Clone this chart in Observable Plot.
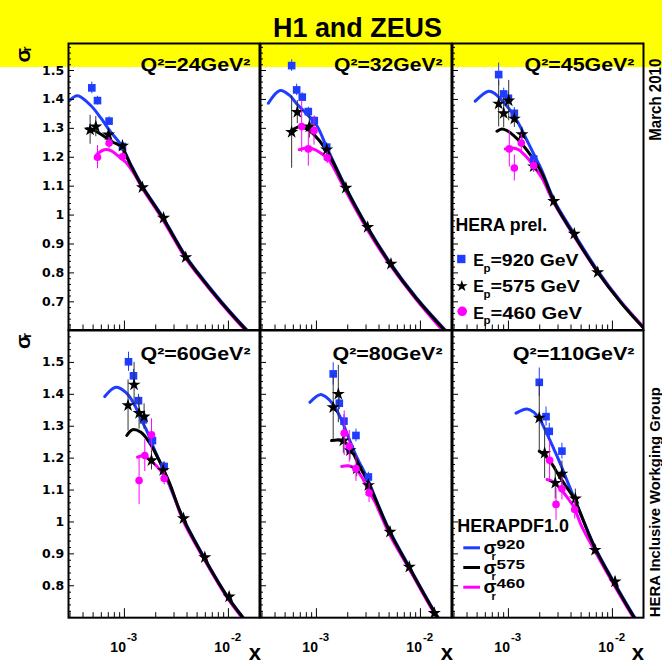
<!DOCTYPE html>
<html><head><meta charset="utf-8">
<script src="https://cdn.jsdelivr.net/npm/d3@7"></script>
<script src="https://cdn.jsdelivr.net/npm/@observablehq/plot@0.6"></script>
<style>
html,body{margin:0;padding:0;background:#fff;}
#root{position:relative;width:662px;height:664px;overflow:hidden;}
</style></head><body><div id="root"></div>
<script>
const BLUE = "#1f3dff", MAG = "#ff00ff", BLK = "#000000", YEL = "#ffff00";

// ---- Q2 = 24 ----
const fit24_920 = [[2.90e-4,1.393],[3.54e-4,1.413],[4.75e-4,1.379],[5.93e-4,1.336],[7.40e-4,1.287],[9.23e-4,1.244],[1.17e-3,1.170],[1.49e-3,1.100],[2.32e-3,0.995],[3.89e-3,0.858],[5.04e-3,0.803],[8.45e-3,0.703],[1.47e-2,0.607],[1.7e-2,0.585]];
const fit24_575 = [[4.35e-4,1.299],[5.1e-4,1.293],[6.4e-4,1.272],[7.7e-4,1.253],[9.3e-4,1.236],[1.17e-3,1.167],[1.49e-3,1.097],[2.32e-3,0.992],[3.89e-3,0.855],[5.04e-3,0.800],[8.45e-3,0.700],[1.47e-2,0.604],[1.7e-2,0.582]];
const fit24_460 = [[5.5e-4,1.212],[6.4e-4,1.226],[7.4e-4,1.223],[8.6e-4,1.206],[1.03e-3,1.183],[1.24e-3,1.143],[1.49e-3,1.092],[2.32e-3,0.986],[3.89e-3,0.850],[5.04e-3,0.796],[8.45e-3,0.697],[1.47e-2,0.600],[1.7e-2,0.578]];
const pts24_920 = [[4.86e-4,1.440,0.02],[5.51e-4,1.396,0.015],[7.12e-4,1.325,0.015],[9.58e-4,1.237,0.015]];
const pts24_575 = [[4.68e-4,1.295,0.05],[5.31e-4,1.306,0.035],[7.03e-4,1.278,0.02],[9.58e-4,1.239,0.02],[1.49e-3,1.096,0.015],[2.38e-3,0.990,0.012],[3.89e-3,0.854,0.012]];
const pts24_460 = [[5.51e-4,1.200,0.04],[7.12e-4,1.249,0.02],[9.58e-4,1.202,0.015]];

// ---- Q2 = 32 ----
const fit32_920 = [[3.45e-4,1.387],[4.47e-4,1.431],[5.57e-4,1.413],[6.46e-4,1.385],[8.06e-4,1.350],[1.007e-3,1.310],[1.256e-3,1.235],[1.92e-3,1.096],[3.11e-3,0.958],[5.21e-3,0.831],[9.07e-3,0.716],[1.76e-2,0.600],[1.9e-2,0.588]];
const fit32_575 = [[5.78e-4,1.292],[6.95e-4,1.306],[8.06e-4,1.298],[9.33e-4,1.281],[1.256e-3,1.223],[1.92e-3,1.092],[3.11e-3,0.955],[5.21e-3,0.828],[9.07e-3,0.713],[1.76e-2,0.597],[1.9e-2,0.585]];
const fit32_460 = [[6.85e-4,1.226],[8.36e-4,1.233],[9.69e-4,1.226],[1.125e-3,1.212],[1.30e-3,1.194],[1.92e-3,1.082],[3.11e-3,0.948],[5.21e-3,0.823],[9.07e-3,0.709],[1.64e-2,0.600],[1.8e-2,0.583]];
const pts32_920 = [[5.78e-4,1.517,0.02],[6.46e-4,1.433,0.02],[7.31e-4,1.408,0.015],[8.36e-4,1.358,0.015],[9.54e-4,1.327,0.015],[1.256e-3,1.235,0.015]];
const pts32_575 = [[5.78e-4,1.287,0.125],[6.55e-4,1.356,0.04],[8.55e-4,1.306,0.04],[1.256e-3,1.226,0.02],[1.92e-3,1.094,0.015],[3.11e-3,0.958,0.012],[5.21e-3,0.831,0.012]];
const pts32_460 = [[7.22e-4,1.306,0.09],[8.36e-4,1.229,0.06],[9.48e-4,1.292,0.05],[1.27e-3,1.198,0.02]];

// ---- Q2 = 45 ----
const fit45_920 = [[4.80e-4,1.394],[6.46e-4,1.428],[7.48e-4,1.419],[8.67e-4,1.396],[1.042e-3,1.362],[1.256e-3,1.316],[1.51e-3,1.258],[1.815e-3,1.200],[2.10e-3,1.154],[2.76e-3,1.050],[4.30e-3,0.935],[7.22e-3,0.808],[1.21e-2,0.700],[1.99e-2,0.612],[2.2e-2,0.595]];
const fit45_575 = [[7.76e-4,1.290],[8.67e-4,1.298],[9.69e-4,1.292],[1.125e-3,1.275],[1.35e-3,1.246],[1.69e-3,1.200],[2.10e-3,1.145],[2.76e-3,1.044],[4.30e-3,0.929],[7.22e-3,0.803],[1.21e-2,0.697],[1.99e-2,0.609],[2.2e-2,0.592]];
const fit45_460 = [[9.33e-4,1.229],[1.083e-3,1.232],[1.256e-3,1.226],[1.45e-3,1.206],[1.69e-3,1.177],[2.10e-3,1.128],[2.76e-3,1.040],[4.30e-3,0.926],[7.22e-3,0.802],[1.21e-2,0.698],[1.99e-2,0.612],[2.2e-2,0.595]];
const pts45_920 = [[8.06e-4,1.486,0.04],[9.01e-4,1.419,0.02],[1.0e-3,1.404,0.02],[1.14e-3,1.352,0.02],[1.75e-3,1.194,0.015]];
const pts45_575 = [[8.06e-4,1.385,0.08],[9.01e-4,1.352,0.05],[1.007e-3,1.396,0.07],[1.14e-3,1.333,0.03],[1.35e-3,1.279,0.025],[1.75e-3,1.168,0.02],[2.73e-3,1.048,0.015],[4.30e-3,0.935,0.012],[7.22e-3,0.802,0.012]];
const pts45_460 = [[1.02e-3,1.229,0.063],[1.14e-3,1.163,0.045],[1.33e-3,1.249,0.03],[1.75e-3,1.171,0.02]];

// ---- Q2 = 60 ----
const fit60_920 = [[6.47e-4,1.393],[8.26e-4,1.422],[1.031e-3,1.406],[1.239e-3,1.370],[1.44e-3,1.323],[1.667e-3,1.281],[1.93e-3,1.229],[2.24e-3,1.182],[2.60e-3,1.130],[3.62e-3,1.016],[5.84e-3,0.889],[9.80e-3,0.766],[1.366e-2,0.703],[1.6e-2,0.675]];
const fit60_575 = [[1.054e-3,1.271],[1.197e-3,1.289],[1.44e-3,1.281],[1.73e-3,1.250],[2.08e-3,1.203],[2.41e-3,1.160],[2.70e-3,1.124],[3.62e-3,1.014],[5.84e-3,0.887],[9.80e-3,0.765],[1.366e-2,0.702],[1.6e-2,0.674]];
const fit60_460 = [[1.337e-3,1.203],[1.546e-3,1.208],[1.79e-3,1.193],[2.08e-3,1.172],[2.41e-3,1.146],[2.80e-3,1.108],[3.62e-3,1.008],[5.84e-3,0.883],[9.80e-3,0.761],[1.366e-2,0.698],[1.6e-2,0.670]];
const pts60_920 = [[1.095e-3,1.502,0.03],[1.222e-3,1.458,0.02],[1.366e-3,1.380,0.02],[1.525e-3,1.320,0.02],[1.86e-3,1.255,0.02],[2.41e-3,1.174,0.015]];
const pts60_575 = [[1.084e-3,1.365,0.08],[1.239e-3,1.430,0.07],[1.384e-3,1.341,0.05],[1.546e-3,1.330,0.04],[1.82e-3,1.193,0.03],[2.36e-3,1.162,0.025],[3.70e-3,1.011,0.015],[5.93e-3,0.889,0.012],[1.016e-2,0.766,0.012]];
const pts60_460 = [[1.384e-3,1.130,0.075],[1.57e-3,1.208,0.05],[1.82e-3,1.273,0.05],[2.41e-3,1.136,0.02]];

// ---- Q2 = 80 ----
const fit80_920 = [[8.67e-4,1.375],[1.083e-3,1.399],[1.30e-3,1.386],[1.51e-3,1.359],[1.75e-3,1.318],[2.03e-3,1.266],[2.44e-3,1.203],[3.05e-3,1.141],[3.66e-3,1.078],[5.03e-3,0.974],[7.82e-3,0.859],[1.466e-2,0.703],[1.7e-2,0.675]];
const fit80_575 = [[1.40e-3,1.255],[1.624e-3,1.257],[1.88e-3,1.250],[2.18e-3,1.224],[2.62e-3,1.172],[3.05e-3,1.133],[3.66e-3,1.075],[5.03e-3,0.971],[7.82e-3,0.857],[1.466e-2,0.701],[1.7e-2,0.673]];
const fit80_460 = [[1.75e-3,1.174],[2.03e-3,1.176],[2.35e-3,1.167],[2.73e-3,1.141],[3.16e-3,1.099],[3.66e-3,1.062],[5.03e-3,0.962],[7.82e-3,0.852],[1.466e-2,0.697],[1.7e-2,0.669]];
const pts80_920 = [[1.45e-3,1.464,0.035],[1.66e-3,1.372,0.02],[1.84e-3,1.316,0.02],[2.10e-3,1.229,0.02],[2.40e-3,1.271,0.02],[3.16e-3,1.141,0.015]];
const pts80_575 = [[1.45e-3,1.359,0.1],[1.624e-3,1.401,0.09],[1.815e-3,1.255,0.04],[2.10e-3,1.224,0.03],[2.44e-3,1.167,0.025],[3.16e-3,1.115,0.02],[5.10e-3,0.969,0.015],[7.82e-3,0.859,0.012],[1.36e-2,0.714,0.012]];
const pts80_460 = [[1.85e-3,1.278,0.07],[2.07e-3,1.237,0.05],[2.40e-3,1.167,0.04],[3.21e-3,1.091,0.03]];

// ---- Q2 = 110 ----
const fit110_920 = [[1.184e-3,1.341],[1.51e-3,1.354],[1.75e-3,1.344],[2.03e-3,1.318],[2.35e-3,1.276],[2.73e-3,1.229],[3.16e-3,1.182],[3.66e-3,1.130],[4.25e-3,1.078],[6.70e-3,0.925],[1.042e-2,0.810],[1.624e-2,0.703],[1.8e-2,0.682]];
const fit110_575 = [[1.98e-3,1.222],[2.26e-3,1.208],[2.62e-3,1.182],[3.05e-3,1.146],[3.52e-3,1.115],[4.25e-3,1.075],[6.70e-3,0.922],[1.042e-2,0.807],[1.624e-2,0.700],[1.8e-2,0.679]];
const fit110_460 = [[2.35e-3,1.133],[2.73e-3,1.125],[3.16e-3,1.104],[3.66e-3,1.078],[4.25e-3,1.047],[5.0e-3,0.990],[6.70e-3,0.912],[1.042e-2,0.801],[1.624e-2,0.696],[1.8e-2,0.675]];
const pts110_920 = [[1.98e-3,1.4375,0.045],[2.30e-3,1.330,0.03],[2.47e-3,1.284,0.025],[3.27e-3,1.222,0.025]];
const pts110_575 = [[1.98e-3,1.326,0.11],[2.23e-3,1.216,0.08],[2.82e-3,1.122,0.05],[3.27e-3,1.151,0.04],[4.40e-3,1.073,0.03],[6.81e-3,0.912,0.015],[1.06e-2,0.813,0.015]];
const pts110_460 = [[2.49e-3,1.193,0.06],[2.87e-3,1.055,0.05],[3.27e-3,1.104,0.035],[4.34e-3,1.039,0.03]];

// ---- axes / labels ----
const qLabels = ["Q²=24GeV²","Q²=32GeV²","Q²=45GeV²","Q²=60GeV²","Q²=80GeV²","Q²=110GeV²"];
const yTickTop = [0.7,0.8,0.9,1.0,1.1,1.2,1.3,1.4,1.5];
const yLabTop = ["0.7","0.8","0.9","1","1.1","1.2","1.3","1.4","1.5"];
const yTickBot = [0.8,0.9,1.0,1.1,1.2,1.3,1.4,1.5];
const yLabBot = ["0.8","0.9","1","1.1","1.2","1.3","1.4","1.5"];
const xTickMaj = [1e-3, 1e-2];
const xLabExp = ["-3","-2"];
const xTickMin = [3e-4,4e-4,5e-4,6e-4,7e-4,8e-4,9e-4,2e-3,3e-3,4e-3,5e-3,6e-3,7e-3,8e-3,9e-3];
const legendEnergies = ["=920 GeV","=575 GeV","=460 GeV"];
const legendFits = ["920","575","460"];

const colLeft = [67.7, 259.5, 451.5], W = 191;
const rowTop = [43, 329.5], rowH = [286.5, 287.2];
const yDomain = [[0.6025, 1.5935], [0.7, 1.6]];
const XDOM = [2.9e-4, 0.0199];
const FONT = "'Liberation Sans', Arial, Helvetica, sans-serif";

const panels = [
  {row:0,col:0,f:[fit24_920,fit24_575,fit24_460],p:[pts24_920,pts24_575,pts24_460]},
  {row:0,col:1,f:[fit32_920,fit32_575,fit32_460],p:[pts32_920,pts32_575,pts32_460]},
  {row:0,col:2,f:[fit45_920,fit45_575,fit45_460],p:[pts45_920,pts45_575,pts45_460]},
  {row:1,col:0,f:[fit60_920,fit60_575,fit60_460],p:[pts60_920,pts60_575,pts60_460]},
  {row:1,col:1,f:[fit80_920,fit80_575,fit80_460],p:[pts80_920,pts80_575,pts80_460]},
  {row:1,col:2,f:[fit110_920,fit110_575,fit110_460],p:[pts110_920,pts110_575,pts110_460]}
];

const root = document.getElementById("root");
function place(svg, left, top) {
  svg.style.position = "absolute";
  svg.style.left = left + "px";
  svg.style.top = top + "px";
  root.appendChild(svg);
}
const X = d => d[0], Y = d => d[1];

// ---- background: yellow band, title, side texts, legends ----
const T = (s, x, y, o = {}) => Plot.text([s], {x: () => x, y: () => y, text: d => d, fontWeight: "bold", lineAnchor: "bottom", ...o});
const bgMarks = [
  Plot.rect([0], {x1: () => 0, x2: () => 662, y1: () => 0, y2: () => 67, fill: YEL}),
  T("H1 and ZEUS", 357, 36, {fontSize: 27, textAnchor: "middle"}),
  T("March 2010", 660, 99.2, {fontSize: 16, textAnchor: "middle", rotate: -90}),
  T("HERA Inclusive Workging Group", 659.5, 501.7, {fontSize: 15, textAnchor: "middle", rotate: -90}),
  T("σ", 29, 62, {fontSize: 21, textAnchor: "start", rotate: -90}),
  T("r", 30.5, 51, {fontSize: 13, textAnchor: "start", rotate: -90}),
  T("σ", 29, 348.5, {fontSize: 21, textAnchor: "start", rotate: -90}),
  T("r", 30.5, 337.5, {fontSize: 13, textAnchor: "start", rotate: -90}),
  T("x", 260.5, 659.5, {fontSize: 22, textAnchor: "end"}),
  T("x", 452.5, 659.5, {fontSize: 22, textAnchor: "end"}),
  T("x", 643.5, 659.5, {fontSize: 22, textAnchor: "end"}),
  // data legend
  T("HERA prel.", 455, 230.7, {fontSize: 17.5, textAnchor: "start"}),
  Plot.dot([0], {x: () => 460.8, y: () => 258.5, symbol: "square", r: 4.7, fill: BLUE}),
  Plot.dot([0], {x: () => 461.3, y: () => 285.6, symbol: "star", r: 3.7, fill: BLK}),
  Plot.dot([0], {x: () => 461.7, y: () => 310.8, symbol: "circle", r: 4.8, fill: MAG})
];
[265.7, 291.9, 318.3].forEach((b, i) => {
  bgMarks.push(T("E", 472.7, b, {fontSize: 16, textAnchor: "start"}));
  bgMarks.push(T("p", 483, b + 5.3, {fontSize: 11.5, textAnchor: "start"}));
  bgMarks.push(T(legendEnergies[i], 490, b, {fontSize: 16, textAnchor: "start"}));
});
// fit legend
bgMarks.push(T("HERAPDF1.0", 456.7, 531.7, {fontSize: 18, textAnchor: "start"}));
[BLUE, BLK, MAG].forEach((c, i) => {
  const yl = 547.3 + 19.7 * i;
  bgMarks.push(Plot.ruleY([0], {y: () => yl, x1: () => 463.3, x2: () => 480, stroke: c, strokeWidth: 3}));
  bgMarks.push(T("σ", 483, 553.3 + 19.7 * i, {fontSize: 19, textAnchor: "start"}));
  bgMarks.push(T("r", 491, 559.8 + 19.7 * i, {fontSize: 11, textAnchor: "start"}));
  bgMarks.push(T(legendFits[i], 496, 548.5 + 19.7 * i, {fontSize: 13.5, textAnchor: "start"}));
});

const bg = Plot.plot({
  width: 662, height: 664, margin: 0,
  x: {type: "identity", axis: null}, y: {type: "identity", axis: null},
  style: {background: "transparent", overflow: "visible", fontFamily: FONT},
  marks: bgMarks
});
place(bg, 0, 0);

// ---- panels ----
function makePanel(p, idx) {
  const H = rowH[p.row];
  const top = p.row === 0;
  const yMaj = top ? yTickTop : yTickBot;
  const yLab = top ? yLabTop : yLabBot;
  const yMin = d3.range(top ? 0.62 : 0.72, 1.59, 0.02).map(v => +v.toFixed(2)).filter(v => Math.abs(v * 10 - Math.round(v * 10)) > 1e-6);
  const [f920, f575, f460] = p.f, [p920, p575, p460] = p.p;
  const lineOpt = c => ({x: X, y: Y, stroke: c, strokeWidth: 3, curve: "catmull-rom", clip: true});
  const errOpt = c => ({x: X, y1: d => d[1] - d[2], y2: d => d[1] + d[2], stroke: c, strokeWidth: 1});
  const marks = [
    Plot.line(f920, lineOpt(BLUE)),
    Plot.line(f460, lineOpt(MAG)),
    Plot.line(f575, lineOpt(BLK)),
    Plot.ruleX(p920, errOpt(BLUE)),
    Plot.dot(p920, {x: X, y: Y, symbol: "square", r: 4.3, fill: BLUE}),
    Plot.ruleX(p575, errOpt("#333")),
    Plot.dot(p575, {x: X, y: Y, symbol: "star", r: 4.1, fill: BLK}),
    Plot.ruleX(p460, errOpt(MAG)),
    Plot.dot(p460, {x: X, y: Y, symbol: "circle", r: 3.8, fill: MAG}),
    Plot.tickY(yMaj, {y: d => d, insetRight: W - 6, stroke: BLK, strokeWidth: 1}),
    Plot.tickY(yMin, {y: d => d, insetRight: W - 3, stroke: BLK, strokeWidth: 1}),
    Plot.tickX(xTickMaj, {x: d => d, insetTop: H - 9, stroke: BLK, strokeWidth: 1}),
    Plot.tickX(xTickMin, {x: d => d, insetTop: H - 5, stroke: BLK, strokeWidth: 1}),
    Plot.text([qLabels[idx]], {frameAnchor: "top-right", text: d => d, dx: -9, dy: top ? 27 : 29.8, textAnchor: "end", lineAnchor: "bottom", fontSize: 17.7, fontWeight: "bold"}),
    Plot.frame({stroke: BLK, strokeWidth: 2})
  ];
  if (p.col === 0) {
    marks.push(Plot.text(yMaj, {y: d => d, text: (d, i) => yLab[i], frameAnchor: "left", dx: -4.4, textAnchor: "end", lineAnchor: "middle", fontFamily: "'DejaVu Sans', sans-serif", fontWeight: "bold", fontSize: 12.5}));
  }
  if (!top) {
    marks.push(Plot.text(xTickMaj, {x: d => d, text: () => "10", frameAnchor: "bottom", dx: 1.5, dy: 34.7, textAnchor: "end", lineAnchor: "bottom", fontSize: 14, fontWeight: "bold"}));
    marks.push(Plot.text(xTickMaj, {x: d => d, text: (d, i) => xLabExp[i], frameAnchor: "bottom", dx: 2.5, dy: 23, textAnchor: "start", lineAnchor: "bottom", fontSize: 11.5, fontWeight: "bold"}));
  }
  return Plot.plot({
    width: W, height: H, margin: 0,
    x: {type: "log", domain: XDOM, axis: null},
    y: {domain: yDomain[p.row], axis: null},
    style: {background: "transparent", overflow: "visible", fontFamily: FONT},
    marks
  });
}
panels.forEach((p, i) => place(makePanel(p, i), colLeft[p.col], rowTop[p.row]));

// ---- stretch wide ROOT-style texts to their measured lengths ----
const lengths = new Map([
  ["H1 and ZEUS", 169], ["March 2010", 82], ["HERA Inclusive Workging Group", 230],
  ["HERA prel.", 91.7], ["HERAPDF1.0", 111.7],
  ["=920 GeV", 88], ["=575 GeV", 89.5], ["=460 GeV", 91.5],
  ["Q²=24GeV²", 110], ["Q²=32GeV²", 108.5], ["Q²=45GeV²", 110],
  ["Q²=60GeV²", 110], ["Q²=80GeV²", 110], ["Q²=110GeV²", 121.7],
  ["920", 28.5], ["575", 28.5], ["460", 28.5]
]);
d3.select(root).selectAll("text").each(function () {
  const L = lengths.get(this.textContent);
  if (L) { this.setAttribute("textLength", L); this.setAttribute("lengthAdjust", "spacingAndGlyphs"); }
});
</script></body></html>
